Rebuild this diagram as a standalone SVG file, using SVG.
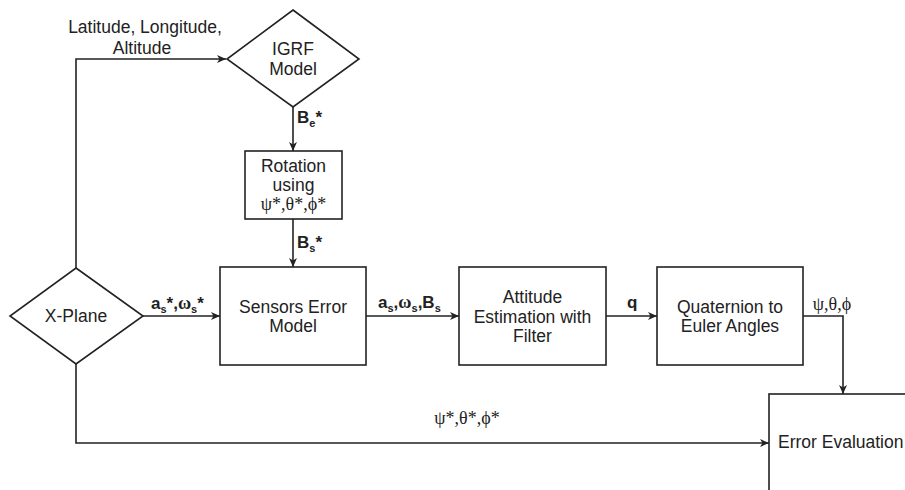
<svg xmlns="http://www.w3.org/2000/svg" width="905" height="490" viewBox="0 0 905 490">
<defs>
<style>
.shape{fill:#fff;stroke:#222;stroke-width:1.6}
.line{fill:none;stroke:#222;stroke-width:1.6}
.t{font-family:"Liberation Sans",Arial,sans-serif;font-size:17.5px;fill:#222;text-anchor:middle}
.g{font-family:"Liberation Serif","Times New Roman",serif;font-size:18px;fill:#222;text-anchor:middle}
.b{font-family:"Liberation Sans",Arial,sans-serif;font-size:17px;font-weight:bold;fill:#222}
.bs{font-family:"Liberation Serif","Times New Roman",serif;font-size:18px;font-weight:bold;fill:#222}
.sub{font-size:11px}
</style>
<marker id="arr" markerWidth="10" markerHeight="8" refX="9" refY="4" orient="auto" markerUnits="userSpaceOnUse">
<path d="M0,0 L9,4 L0,8 L2.5,4 z" fill="#222"/>
</marker>
</defs>
<rect width="905" height="490" fill="#fff"/>
<g id="connectors">
<path class="line" d="M76,268 V59 H226" marker-end="url(#arr)"/>
<path class="line" d="M293,107 V151" marker-end="url(#arr)"/>
<path class="line" d="M293,219 V267" marker-end="url(#arr)"/>
<path class="line" d="M143,316 H220" marker-end="url(#arr)"/>
<path class="line" d="M366,316 H459" marker-end="url(#arr)"/>
<path class="line" d="M606,316 H657" marker-end="url(#arr)"/>
<path class="line" d="M803,316 H843 V394" marker-end="url(#arr)"/>
<path class="line" d="M76,364 V443 H769" marker-end="url(#arr)"/>
</g>
<g id="labels">
<text class="t" x="145" y="33">Latitude, Longitude,</text>
<text class="t" x="142" y="54">Altitude</text>
<text x="297" y="123"><tspan class="b">B</tspan><tspan class="b sub" dy="4">e</tspan><tspan class="b" dy="-4">*</tspan></text>
<text x="297" y="248"><tspan class="b">B</tspan><tspan class="b sub" dy="4">s</tspan><tspan class="b" dy="-4">*</tspan></text>
<text x="151" y="309"><tspan class="b">a</tspan><tspan class="b sub" dy="4">s</tspan><tspan class="b" dy="-4">*,</tspan><tspan class="bs">ω</tspan><tspan class="b sub" dy="4">s</tspan><tspan class="b" dy="-4">*</tspan></text>
<text x="378" y="308"><tspan class="b">a</tspan><tspan class="b sub" dy="4">s</tspan><tspan class="b" dy="-4">,</tspan><tspan class="bs">ω</tspan><tspan class="b sub" dy="4">s</tspan><tspan class="b" dy="-4">,B</tspan><tspan class="b sub" dy="4">s</tspan></text>
<text class="b" x="627" y="308">q</text>
<text class="g" x="832" y="310">ψ,θ,ϕ</text>
<text class="g" x="467" y="424">ψ*,θ*,ϕ*</text>
</g>
<g id="igrf">
<polygon class="shape" points="293,10 359,59 293,107 227,59"/>
<text class="t" x="293" y="55">IGRF</text>
<text class="t" x="293" y="75">Model</text>
</g>
<g id="rotation">
<rect class="shape" x="245" y="151" width="97" height="68"/>
<text class="t" x="293.5" y="172">Rotation</text>
<text class="t" x="293.5" y="191">using</text>
<text class="g" x="293.5" y="210">ψ*,θ*,ϕ*</text>
</g>
<g id="xplane">
<polygon class="shape" points="76,268 143,316 76,364 10,316"/>
<text class="t" x="76" y="322">X-Plane</text>
</g>
<g id="sensors">
<rect class="shape" x="220" y="267" width="146" height="98"/>
<text class="t" x="293" y="313">Sensors Error</text>
<text class="t" x="293" y="332">Model</text>
</g>
<g id="attitude">
<rect class="shape" x="459" y="267" width="147" height="98"/>
<text class="t" x="532.5" y="303">Attitude</text>
<text class="t" x="532.5" y="323">Estimation with</text>
<text class="t" x="532.5" y="342">Filter</text>
</g>
<g id="quaternion">
<rect class="shape" x="657" y="267" width="146" height="98"/>
<text class="t" x="730" y="313">Quaternion to</text>
<text class="t" x="730" y="332">Euler Angles</text>
</g>
<g id="error">
<rect class="shape" x="769" y="394" width="150" height="110"/>
<text class="t" x="778" y="448" style="text-anchor:start">Error Evaluation</text>
</g>
</svg>
